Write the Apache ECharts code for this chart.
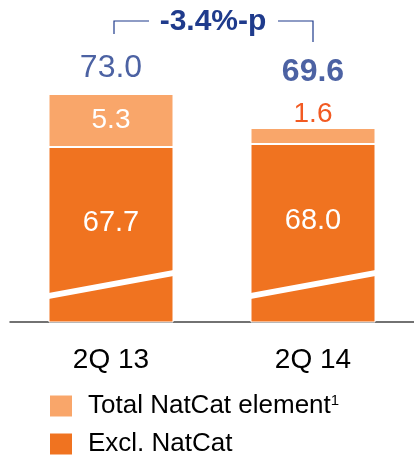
<!DOCTYPE html>
<html><head><meta charset="utf-8">
<script src="https://cdn.jsdelivr.net/npm/echarts@6/dist/echarts.min.js"></script>
<style>html,body{margin:0;padding:0;background:#fff}#c{width:414px;height:458px}</style>
</head><body><div id="c"></div>
<script>
const categories = ['2Q 13', '2Q 14'];
const exclNatCat = [67.7, 68.0];
const natCat = [5.3, 1.6];
const totals = [73.0, 69.6];
const changeLabel = '-3.4%-p';
const breakLow = [52.8, 52.8];
const breakHigh = [55.1, 55.1];

const NAVY = '#1F3B8C', DARK = '#F07320', LIGHT = '#F9A66A', RED = '#F25A22';
const FONT = 'Liberation Sans, Arial, sans-serif';
const BW = 125;

const legendBase = {orient: 'vertical', left: 48, padding: 0, itemWidth: 24, itemHeight: 23,
  icon: 'rect',
  textStyle: {fontSize: 26, color: '#000', fontFamily: FONT, padding: [0,0,0,10],
    rich: {sup: {fontSize: 15, verticalAlign: 'top', padding: [0,0,10,0], color: '#000', fontFamily: FONT}}},
  formatter: n => n === 'Total NatCat element' ? n + '{sup|1}' : n};

const chart = echarts.init(document.getElementById('c'));
chart.setOption({
  animation: false,
  textStyle: {fontFamily: FONT},
  grid: {left: 10, right: -3, top: 22, bottom: 136},
  xAxis: {type: 'category', data: categories,
    axisLine: {lineStyle: {color: '#444', width: 1.5}}, axisTick: {show: false},
    axisLabel: {fontSize: 28, color: '#000', margin: 24, fontFamily: FONT}},
  yAxis: {type: 'value', min: 50.2, max: 80.2, show: false, splitLine: {show: false}},
  legend: [
    Object.assign({}, legendBase, {top: 393, data: ['Total NatCat element']}),
    Object.assign({}, legendBase, {top: 431, data: ['Excl. NatCat']})
  ],
  series: [
    {name: 'Excl. NatCat', type: 'bar', stack: 's', barWidth: BW, data: exclNatCat,
      itemStyle: {color: DARK, borderColor: '#fff', borderWidth: 1},
      label: {show: true, position: 'inside', offset: [0, -12], color: '#fff', fontSize: 29, fontFamily: FONT,
        formatter: p => p.value.toFixed(1)}},
    {name: 'Total NatCat element', type: 'bar', stack: 's', barWidth: BW,
      data: natCat.map((v, i) => i === 0 ? {value: v} : {value: v, label: {position: 'top', color: RED, distance: 0}}),
      itemStyle: {color: LIGHT, borderColor: '#fff', borderWidth: 1},
      label: {show: true, position: 'inside', color: '#fff', fontSize: 28, fontFamily: FONT,
        formatter: p => p.value.toFixed(1)}},
    {type: 'custom', silent: true, z: 5,
      data: categories.map((c, i) => [i, breakLow[i], breakHigh[i]]),
      renderItem: (params, api) => {
        const a = api.coord([api.value(0), api.value(1)]);
        const b = api.coord([api.value(0), api.value(2)]);
        const h = 3;
        const x0 = a[0] - BW / 2, x1 = a[0] + BW / 2;
        return {type: 'polygon', shape: {points: [[x0, a[1] - h], [x1, b[1] - h], [x1, b[1] + h], [x0, a[1] + h]]},
          style: {fill: '#fff'}};
      }},
    {type: 'scatter', symbolSize: 0, silent: true,
      data: totals.map((v, i) => ({value: [i, v], label: {show: true, position: 'top',
        distance: i === 0 ? 10 : 40, fontWeight: i === 0 ? 'normal' : 'bold',
        color: NAVY, fontSize: 32, fontFamily: FONT, formatter: () => v.toFixed(1)}}))}
  ]
});

// bracket annotation above the bars
const p0 = chart.convertToPixel({xAxisIndex: 0}, 0);
const p1 = chart.convertToPixel({xAxisIndex: 0}, 1);
chart.setOption({graphic: [
  {type: 'polyline', shape: {points: [[p0 + 3, 34], [p0 + 3, 21], [p0 + 38, 21]]}, style: {stroke: NAVY, lineWidth: 1.2, fill: null}},
  {type: 'polyline', shape: {points: [[p1 - 35, 21], [p1, 21], [p1, 42]]}, style: {stroke: NAVY, lineWidth: 1.2, fill: null}},
  {type: 'text', x: (p0 + p1) / 2 + 1, y: 22, style: {text: changeLabel, fill: NAVY, font: 'bold 30px ' + FONT, align: 'center', verticalAlign: 'middle'}}
]});
</script></body></html>
